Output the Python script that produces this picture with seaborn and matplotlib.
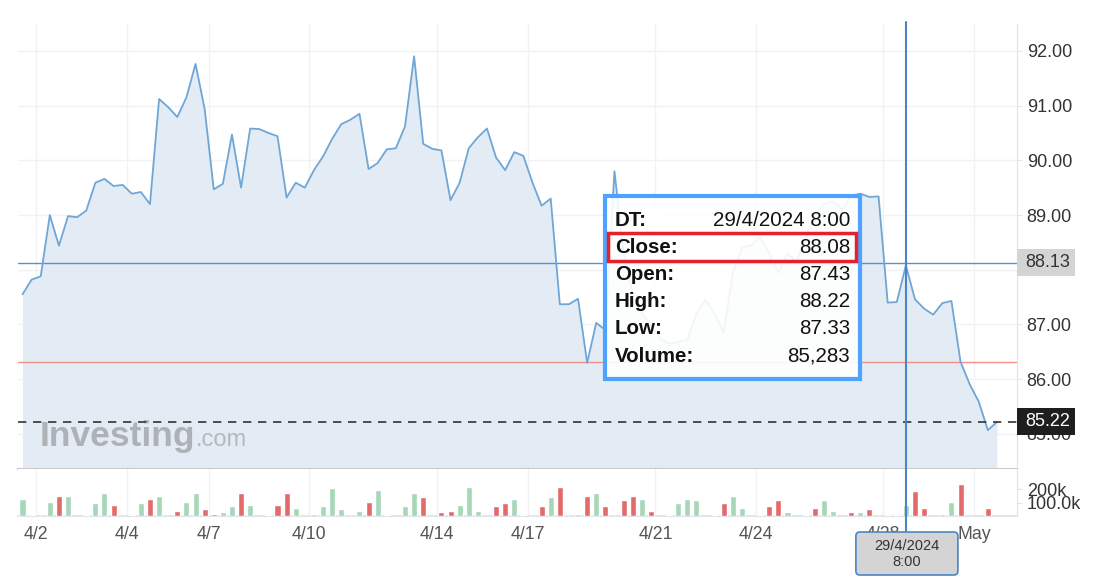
import matplotlib
matplotlib.use("Agg")
import matplotlib.pyplot as plt
import matplotlib.transforms as mtransforms
from matplotlib.lines import Line2D
from matplotlib.patches import Rectangle, FancyBboxPatch
import pandas as pd
import seaborn as sns

# ---- data (one bar per session slot) ----
close = [
    87.55, 87.82, 87.88, 89.00, 88.44, 88.98, 88.96, 89.08, 89.59, 89.66,
    89.53, 89.55, 89.39, 89.42, 89.20, 91.12, 90.97, 90.79, 91.15, 91.76,
    90.94, 89.47, 89.57, 90.47, 89.50, 90.58, 90.57, 90.50, 90.44, 89.32,
    89.59, 89.50, 89.82, 90.07, 90.39, 90.66, 90.74, 90.85, 89.84, 89.95,
    90.20, 90.22, 90.62, 91.90, 90.30, 90.21, 90.18, 89.27, 89.59, 90.22,
    90.42, 90.58, 90.05, 89.82, 90.15, 90.08, 89.59, 89.17, 89.30, 87.37,
    87.37, 87.47, 86.30, 87.03, 86.90, 89.80, 88.30, 87.60, 87.20, 87.00,
    86.75, 86.65, 86.68, 86.72, 87.20, 87.45, 87.20, 86.85, 87.95, 88.40,
    88.45, 88.60, 88.30, 87.95, 88.30, 88.15, 88.60, 89.00, 89.20, 89.25,
    89.10, 89.35, 89.39, 89.33, 89.34, 87.40, 87.41, 88.08, 87.46, 87.29,
    87.18, 87.39, 87.43, 86.32, 85.91, 85.59, 85.07, 85.22,
]
volume_k = [
    131, 8, 0, 108, 154, 154, 0, 8, 98, 176,
    86, 0, 8, 98, 131, 154, 0, 40, 108, 176,
    53, 18, 30, 76, 176, 86, 0, 8, 86, 176,
    63, 0, 18, 76, 212, 53, 0, 40, 108, 199,
    8, 0, 76, 176, 144, 0, 30, 40, 86, 222,
    40, 0, 76, 98, 131, 8, 0, 76, 144, 222,
    0, 18, 154, 176, 76, 0, 121, 154, 131, 40,
    0, 8, 98, 131, 121, 0, 8, 98, 154, 63,
    0, 8, 76, 121, 30, 0, 8, 63, 121, 40,
    0, 30, 30, 53, 0, 8, 8, 85.283, 189, 63,
    0, 18, 108, 244, 0, 0, 63, 0,
]
# g = up bar, r = down bar, . = no volume
bar_dir = ("gg.grg.ggg" "r.rgrg.rgg" "rrggrg.rrr" "g.gggg.grg" "g.ggr.rrgg"
           "g.rrgr.rgr" ".grgr.rrgr" ".rggg.rrgg" ".grrg.grgg" ".rgr.rggrr"
           ".ggr..r.")

day_labels = ["4/2", "4/4", "4/7", "4/10", "4/14", "4/17", "4/21", "4/24", "4/28", "May"]
day_first_bar = [2, 12, 21, 32, 46, 56, 70, 81, 95, 105]

price_ticks = [85, 86, 87, 88, 89, 90, 91, 92]
vol_ticks = [100, 200]
vol_tick_labels = ["100.0k", "200k"]

last_price = 85.22
cross_price = 88.13
ref_price = 86.32
cross_bar = 97
cross_label = "29/4/2024\n8:00"
tip_labels = ["DT:", "Close:", "Open:", "High:", "Low:", "Volume:"]
tip_values = ["29/4/2024 8:00", "88.08", "87.43", "88.22", "87.33", "85,283"]

LINE = "#6fa6d6"
FILL = "#e3ecf5"
GREEN = "#a6d7b7"
RED = "#e26a6a"
CROSS = "#4a86c5"
GRID = "#f0f2f5"
EDGE = "#e1e5eb"

sns.set_style("white")
plt.rcParams["font.family"] = ["Liberation Sans", "DejaVu Sans"]

W, H = 1113, 585
fig = plt.figure(figsize=(W / 100, H / 100), dpi=100)
ax = fig.add_axes([18 / W, 1 - 469 / H, 999 / W, 445 / H])
axv = fig.add_axes([18 / W, 1 - 516 / H, 999 / W, 47 / H])

n = len(close)
df = pd.DataFrame({"i": range(n), "close": close})
vdf = pd.DataFrame({
    "i": range(n),
    "vol": volume_k,
    "dir": ["down" if c == "r" else "up" for c in bar_dir],
})

xlim = (-0.494, 109.2)
ylim = (84.36, 92.49)

# ---- price panel ----
ax.fill_between(df["i"], df["close"], ylim[0], color=FILL, linewidth=0, zorder=1)
sns.lineplot(data=df, x="i", y="close", ax=ax, color=LINE, linewidth=1.3, zorder=4)
ax.axhline(cross_price, color="#5f8fc4", linewidth=1, zorder=3)
ax.axhline(ref_price, color="#f29088", linewidth=1, zorder=3)
ax.axhline(last_price, color="#333333", linewidth=1.2, linestyle=(0, (5, 4)), zorder=5)

ax.set_xlim(*xlim)
ax.set_ylim(*ylim)
tick_pos = [b - 0.5 for b in day_first_bar]
ax.set_xticks(tick_pos)
ax.set_xticklabels([])
ax.tick_params(axis="x", length=0)
ax.yaxis.tick_right()
ax.set_yticks(price_ticks)
ax.set_yticklabels([f"{v:.2f}" for v in price_ticks])
ax.tick_params(axis="y", length=3.6, color=EDGE, pad=3.4, labelsize=13, labelcolor="#333333")
ax.grid(True, color=GRID, linewidth=1)
ax.set_axisbelow(True)
ax.set_xlabel("")
ax.set_ylabel("")
for s in ("top", "left"):
    ax.spines[s].set_visible(False)
ax.spines["right"].set_color(EDGE)
ax.spines["bottom"].set_color("#c9c9c9")
ax.spines["bottom"].set_linewidth(1.5)

# price labels on the right axis
blend_y = mtransforms.blended_transform_factory(ax.transAxes, ax.transData)
box_h = 27 / 54.7
for price, fc, tc in [(cross_price, "#d4d4d4", "#333333"), (last_price, "#1e1e1e", "white")]:
    ax.add_patch(Rectangle((1.0, price - box_h / 2), 58 / 999, box_h, transform=blend_y,
                           facecolor=fc, edgecolor="none", clip_on=False, zorder=6))
    ax.text(1.0 + 8 / 999, price, f"{price:.2f}", transform=blend_y, ha="left", va="center",
            fontsize=13, color=tc, zorder=7, clip_on=False)

# watermark
ax.text(40 / W, 1 - 446 / H, "Investing", transform=fig.transFigure, fontsize=25.5,
        fontweight="bold", color="#aeb2b6", va="baseline", ha="left", zorder=2)
ax.text(196 / W, 1 - 446 / H, ".com", transform=fig.transFigure, fontsize=17,
        color="#b5b9bd", va="baseline", ha="left", zorder=2)

# ---- volume panel ----
sns.barplot(data=vdf, x="i", y="vol", hue="dir", palette={"up": GREEN, "down": RED},
            native_scale=True, dodge=False, width=0.66, saturation=1, legend=False,
            ax=axv, zorder=3)
axv.set_xlim(*xlim)
axv.set_ylim(0, 354)
axv.set_xticks(tick_pos)
axv.set_xticklabels(day_labels)
axv.tick_params(axis="x", length=6, width=1.5, color=EDGE, pad=1.5, labelsize=12.8,
                labelcolor="#555555")
axv.yaxis.tick_right()
axv.set_yticks(vol_ticks)
axv.set_yticklabels(vol_tick_labels)
axv.tick_params(axis="y", length=3.6, color=EDGE, pad=3.4, labelsize=13, labelcolor="#333333")
axv.grid(True, axis="x", color=GRID, linewidth=1)
axv.set_axisbelow(True)
axv.set_xlabel("")
axv.set_ylabel("")
for s in ("top", "left"):
    axv.spines[s].set_visible(False)
axv.spines["right"].set_color(EDGE)
axv.spines["bottom"].set_color(EDGE)
axv.spines["bottom"].set_linewidth(1.5)

# ---- crosshair, date label and tooltip (figure overlays, in inches) ----
inch = fig.dpi_scale_trans
cx_px = ax.transData.transform((cross_bar, 0))[0]
cx_in = cx_px / fig.dpi
fig.add_artist(Line2D([cx_in, cx_in], [(H - 22) / 100, (H - 560) / 100], transform=inch,
                      color=CROSS, linewidth=1.5, zorder=8))
fig.add_artist(FancyBboxPatch((cx_in - 0.50, (H - 575) / 100), 1.02, 0.43,
                              boxstyle="round,pad=0,rounding_size=0.04", transform=inch,
                              facecolor="#d4d4d4", edgecolor=CROSS, linewidth=1.2, zorder=9))
fig.text(cx_in + 0.01, (H - 554) / 100, cross_label, transform=inch, ha="center", va="center",
         fontsize=10.5, color="#333333", linespacing=1.25, zorder=10)

fig.add_artist(Rectangle((605 / 100, (H - 379) / 100), 2.55, 1.83, transform=inch,
                         facecolor="white", alpha=0.9, edgecolor="none", zorder=8))
fig.add_artist(Rectangle((605 / 100, (H - 379) / 100), 2.55, 1.83, transform=inch,
                         facecolor="none", edgecolor="#4da3ff", linewidth=3, zorder=9))
fig.add_artist(Rectangle((607.5 / 100, (H - 261) / 100), 2.48, 0.28, transform=inch,
                         facecolor="none", edgecolor="#e5212b", linewidth=2.5, zorder=9))
for k, (lab, val) in enumerate(zip(tip_labels, tip_values)):
    y = (H - (220 + 27.2 * k)) / 100
    fig.text(6.15, y, lab, transform=inch, ha="left", va="center", fontsize=14.8,
             fontweight="bold", color="#111111", zorder=10)
    fig.text(8.50, y, val, transform=inch, ha="right", va="center", fontsize=14.8,
             color="#111111", zorder=10)

fig.savefig("out.png", dpi=100)
